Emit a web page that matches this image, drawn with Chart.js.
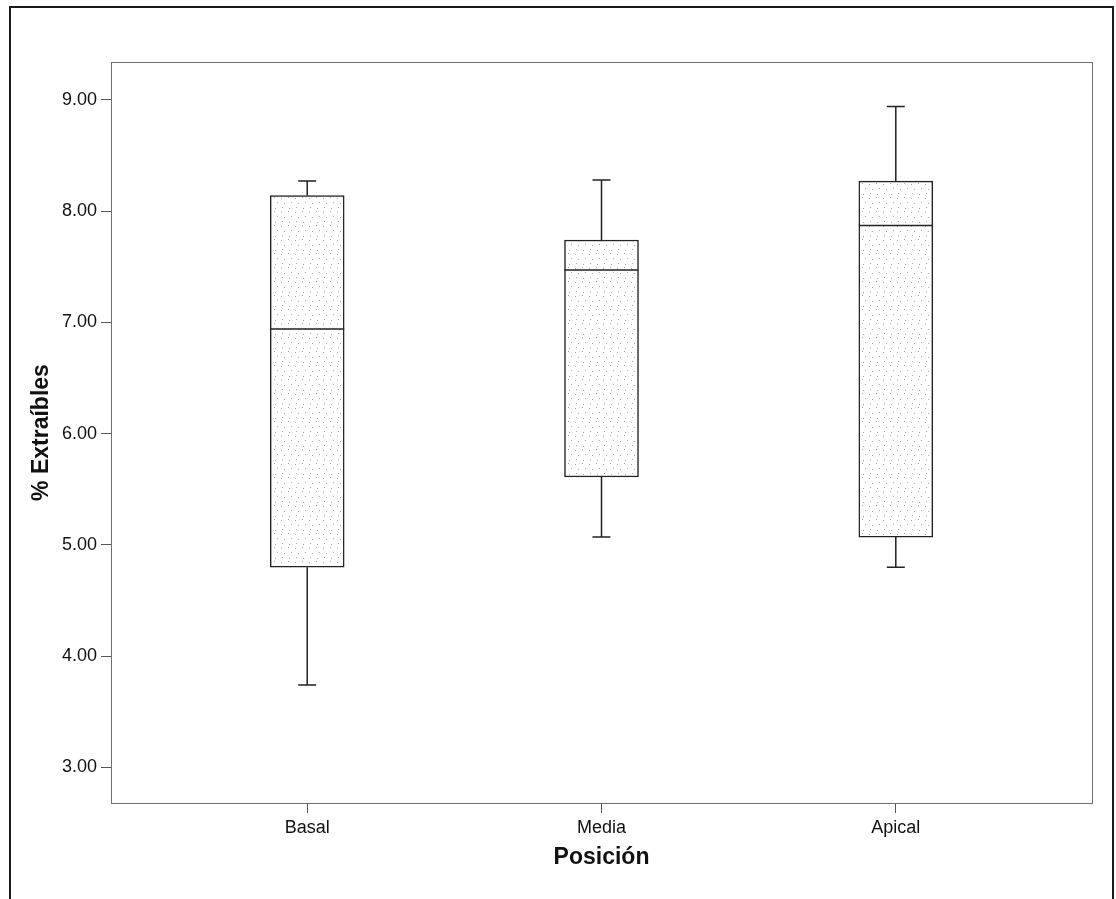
<!DOCTYPE html>
<html>
<head>
<meta charset="utf-8">
<script src="https://cdn.jsdelivr.net/npm/chart.js@4"></script>
<style>
  html, body { margin: 0; padding: 0; background: #fff; }
  #wrap { width: 1116px; height: 899px; }
</style>
</head>
<body>
<div id="wrap"><canvas id="chart" width="1116" height="899"></canvas></div>
<script>
// Box plot values
const positions = ['Basal', 'Media', 'Apical'];
const whiskerLow = [3.74, 5.07, 4.80];
const q1 = [4.80, 5.61, 5.07];
const median = [6.94, 7.47, 7.87];
const q3 = [8.14, 7.74, 8.27];
const whiskerHigh = [8.27, 8.28, 8.94];
const yTicks = [3, 4, 5, 6, 7, 8, 9];

const ctx = document.getElementById('chart').getContext('2d');

// light stippled fill like the printed boxes
function stipple() {
    const c = document.createElement('canvas');
    c.width = 14; c.height = 14;
    const g = c.getContext('2d');
    g.fillStyle = '#ffffff';
    g.fillRect(0, 0, 14, 14);
    g.fillStyle = '#a8a8a8';
    [[1, 2], [8, 1], [4, 7], [11, 6], [2, 11], [9, 12]].forEach(([x, y]) => g.fillRect(x, y, 1, 1));
    return ctx.createPattern(c, 'repeat');
}

const frame = {
    id: 'frame',
    beforeDraw(chart) {
        const c = chart.ctx;
        c.save();
        c.fillStyle = '#fff';
        c.fillRect(0, 0, chart.width, chart.height);
        c.strokeStyle = '#1a1a1a';
        c.lineWidth = 2;
        c.strokeRect(10, 7, 1103, 900);
        c.restore();
    },
    afterDraw(chart) {
        const a = chart.chartArea;
        const c = chart.ctx;
        c.save();
        c.strokeStyle = '#6e6e6e';
        c.lineWidth = 1;
        c.strokeRect(a.left + 0.5, a.top + 0.5, a.right - a.left, a.bottom - a.top);
        c.restore();
    }
};

// whiskers and median lines
const boxParts = {
    id: 'boxParts',
    afterDatasetsDraw(chart) {
        const x = chart.scales.x, y = chart.scales.y;
        const c = chart.ctx;
        const meta = chart.getDatasetMeta(0);
        c.save();
        c.strokeStyle = '#222';
        c.lineWidth = 1.5;
        positions.forEach((p, i) => {
            const cx = x.getPixelForValue(i + 1);
            const bar = meta.data[i];
            const half = bar.width / 2;
            const cap = 9;
            c.beginPath();
            // upper whisker
            c.moveTo(cx, y.getPixelForValue(q3[i]));
            c.lineTo(cx, y.getPixelForValue(whiskerHigh[i]));
            c.moveTo(cx - cap, y.getPixelForValue(whiskerHigh[i]));
            c.lineTo(cx + cap, y.getPixelForValue(whiskerHigh[i]));
            // lower whisker
            c.moveTo(cx, y.getPixelForValue(q1[i]));
            c.lineTo(cx, y.getPixelForValue(whiskerLow[i]));
            c.moveTo(cx - cap, y.getPixelForValue(whiskerLow[i]));
            c.lineTo(cx + cap, y.getPixelForValue(whiskerLow[i]));
            // median
            c.moveTo(cx - half, y.getPixelForValue(median[i]));
            c.lineTo(cx + half, y.getPixelForValue(median[i]));
            c.stroke();
        });
        c.restore();
    }
};

new Chart(ctx, {
    type: 'bar',
    data: {
        datasets: [{
            data: positions.map((p, i) => ({ x: i + 1, y: [q1[i], q3[i]] })),
            backgroundColor: stipple(),
            borderColor: '#222',
            borderWidth: 1.5,
            borderSkipped: false,
            barThickness: 74
        }]
    },
    options: {
        responsive: false,
        animation: false,
        layout: { padding: { top: 62, right: 24, left: 0, bottom: 0 } },
        scales: {
            x: {
                type: 'linear',
                offset: false,
                min: 1 / 3,
                max: 11 / 3,
                afterBuildTicks(scale) {
                    scale.ticks = positions.map((p, i) => ({ value: i + 1 }));
                },
                afterFit(scale) { scale.height = 96; },
                grid: { offset: false, drawOnChartArea: false, drawTicks: true, tickLength: 10, color: '#555' },
                border: { display: false },
                ticks: {
                    callback: (v) => positions[v - 1],
                    color: '#111',
                    padding: 4,
                    maxRotation: 0,
                    font: { family: 'Liberation Sans, Arial, sans-serif', size: 18 }
                },
                title: {
                    display: true,
                    text: 'Posición',
                    color: '#111',
                    padding: { top: 0, bottom: 28 },
                    font: { family: 'Liberation Sans, Arial, sans-serif', size: 23, weight: 'bold' }
                }
            },
            y: {
                min: 2.68,
                max: 9.34,
                afterBuildTicks(scale) {
                    scale.ticks = yTicks.map(v => ({ value: v }));
                },
                afterFit(scale) { scale.width = 111; },
                grid: { drawOnChartArea: false, drawTicks: true, tickLength: 10, color: '#555' },
                border: { display: false },
                ticks: {
                    callback: (v) => v.toFixed(2),
                    color: '#111',
                    padding: 4,
                    font: { family: 'Liberation Sans, Arial, sans-serif', size: 18 }
                },
                title: {
                    display: true,
                    text: '% Extraíbles',
                    color: '#111',
                    padding: { top: 28, bottom: 0 },
                    font: { family: 'Liberation Sans, Arial, sans-serif', size: 23, weight: 'bold' }
                }
            }
        },
        plugins: {
            legend: { display: false },
            tooltip: { enabled: false }
        }
    },
    plugins: [frame, boxParts]
});
</script>
</body>
</html>
